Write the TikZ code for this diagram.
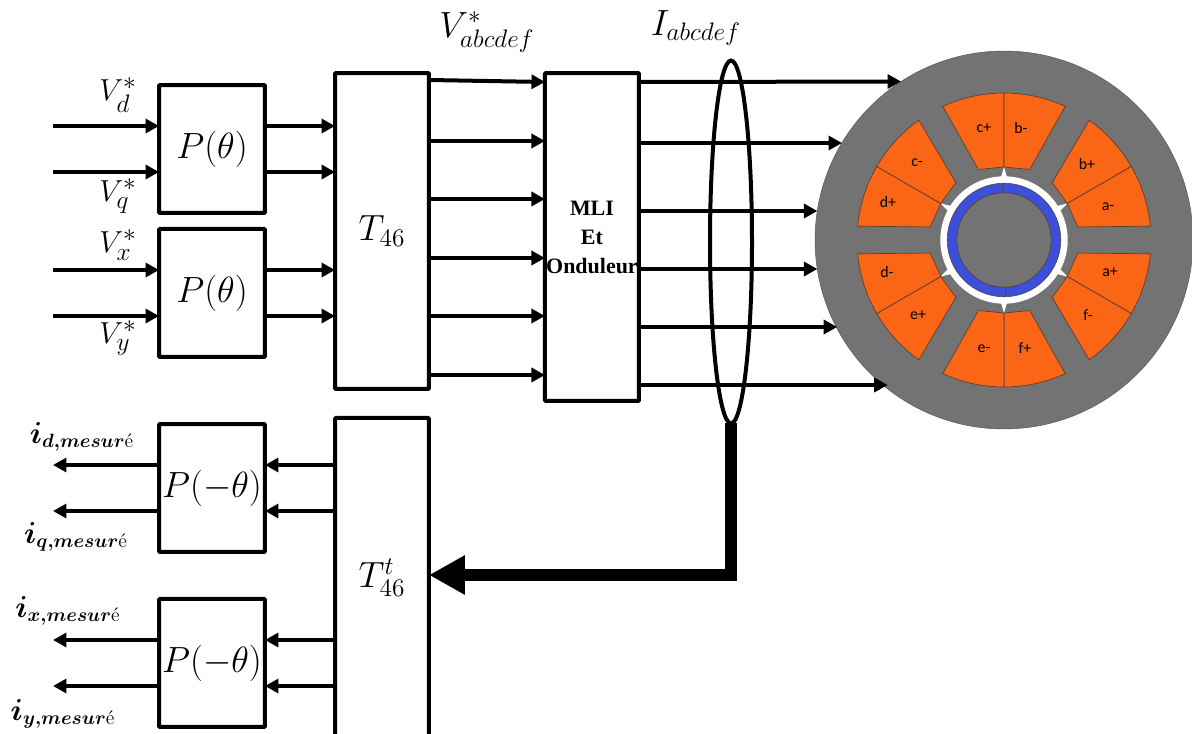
\documentclass[tikz,border=0pt]{standalone}
\usepackage{amsmath,amssymb}
\usepackage{fontspec}
\usepackage{tikz}
\usetikzlibrary{arrows.meta,positioning,shapes,calc,shapes.geometric}
\usepackage{xcolor}
\newfontfamily\slotfont{Carlito}
\newfontfamily\blockfont{Liberation Serif}
\definecolor{statorgray}{HTML}{737373}
\definecolor{slotorange}{HTML}{FA6616}
\definecolor{rotorblue}{HTML}{3B4FDB}
\definecolor{slotline}{HTML}{5A4030}

\begin{document}
\begin{tikzpicture}[
  x=0.02cm, y=-0.02cm,
  blockbox/.style={rectangle, draw, line width=0.08cm, inner sep=0pt, outer sep=0pt,
                   rounded corners=0.5pt, minimum width=2.12cm, minimum height=2.56cm,
                   font=\fontsize{20}{24}\selectfont},
  tallbox/.style={blockbox, minimum width=1.88cm},
  signal/.style={-{Triangle[length=0.27cm,width=0.28cm]}, line width=0.08cm},
  feedback/.style={-{Triangle[length=0.72cm,width=0.74cm]}, line width=0.24cm},
  symb/.style={font=\fontsize{19}{23}\selectfont, inner sep=0pt},
  meas/.style={font=\fontsize{16}{19}\selectfont, inner sep=0pt},
  slot/.style={fill=slotorange, draw=slotline, line width=0.4pt},
  slotlabel/.style={font=\slotfont\fontsize{9}{11}\selectfont, inner sep=0pt}
]
  \useasboundingbox (0,0) rectangle (1192,733);

  % Nodes
  \node[blockbox] (ptop) at (212,149) {$P(\theta)$};
  \node[blockbox, below=0.32cm of ptop] (pbot) {$P(\theta)$};
  \node[tallbox, minimum height=6.32cm] (t46) at (382,231) {$T_{46}$};
  \node[tallbox, minimum height=6.56cm, right=2.32cm of t46, yshift=-0.12cm, align=center,
        font=\blockfont\bfseries\fontsize{12.5}{16.5}\selectfont] (mli) {MLI\\Et\\Onduleur};
  \node[tallbox, minimum height=6.4cm, below=0.58cm of t46] (t46t) {$T_{46}^{t}$};
  \node[blockbox] (pinvtop) at (212,488) {$P(-\theta)$};
  \node[blockbox, below=0.94cm of pinvtop] (pinvbot) {$P(-\theta)$};
  \node[circle, fill=statorgray, draw=statorgray!80!black, line width=0.3pt, inner sep=0pt,
        outer sep=0pt, minimum size=7.56cm] (motor) at (1004,240) {};

  % Stator slots and rotor
  \begin{scope}[shift={(1004,240)}, yscale=-1]
    \foreach \c in {30,90,...,330} {
      \filldraw[slot] (\c:147) arc[start angle=\c, end angle=\c+24.6, radius=147]
        -- (\c+20:75) -- (\c:73) -- cycle;
      \filldraw[slot] (\c:147) arc[start angle=\c, end angle=\c-24.6, radius=147]
        -- (\c-20:75) -- (\c:73) -- cycle;
      \fill[white] (\c-3:62) -- (\c:73) -- (\c+3:62) -- cycle;
    }
    \fill[white] (0,0) circle[radius=63.7];
    \filldraw[fill=rotorblue, draw=slotline, line width=0.3pt] (0,0) circle[radius=56.8];
    \filldraw[fill=statorgray, draw=slotline, line width=0.4pt] (0,0) circle[radius=47.2];
    \draw[slotline, line width=0.4pt] (91.5:47.2) -- (91.5:56.8);
    \draw[slotline, line width=0.4pt] (272:47.2) -- (272:56.8);
  \end{scope}
  \foreach \lab/\px/\py [count=\i] in {c+/984/128, b-/1021/128, b+/1087/164, a-/1108/207,
      a+/1110/272, f-/1088/315, f+/1025/348, e-/984/349, e+/918/315, d-/887/272,
      d+/888/202, c-/917/163}
    \node[slotlabel] (slot\i) at (\px,\py) {\lab};

  % Current sensing loop
  \node[ellipse, draw, line width=0.08cm, inner sep=0pt, outer sep=0pt,
        minimum width=0.84cm, minimum height=7.26cm] (loop) at (731,242) {};

  % Labels
  \node[symb] (vd) at (118,95) {$V_d^*$};
  \node[symb] (vq) at (118,196) {$V_q^*$};
  \node[symb] (vx) at (118,245) {$V_x^*$};
  \node[symb] (vy) at (118,338) {$V_y^*$};
  \node[symb, font=\fontsize{20}{24}\selectfont] (vabc) at (487,32) {$V_{abcdef}^*$};
  \node[symb, font=\fontsize{20}{24}\selectfont] (iabc) at (696,28) {$I_{abcdef}$};
  \node[meas] (idm) at (82,437) {$\boldsymbol{i}_{\boldsymbol{d,mesur}\text{é}}$};
  \node[meas] (iqm) at (76,537) {$\boldsymbol{i}_{\boldsymbol{q,mesur}\text{é}}$};
  \node[meas] (ixm) at (68,611) {$\boldsymbol{i}_{\boldsymbol{x,mesur}\text{é}}$};
  \node[meas] (iym) at (63,714) {$\boldsymbol{i}_{\boldsymbol{y,mesur}\text{é}}$};

  % Free ends of the inputs and outputs
  \foreach \y in {126,172,270,316}
    \coordinate (in\y) at (53,\y);
  \foreach \y in {465,511,640,686}
    \coordinate (out\y) at (53,\y);

  % Reference side
  \foreach \y in {126,172} {
    \draw[signal] (in\y) -- (ptop.west |- in\y);
    \draw[signal] (ptop.east |- in\y) -- (t46.west |- in\y);
  }
  \foreach \y in {270,316} {
    \draw[signal] (in\y) -- (pbot.west |- in\y);
    \draw[signal] (pbot.east |- in\y) -- (t46.west |- in\y);
  }
  \draw[signal] (t46.east |- 0,80) -- (mli.west |- 0,82);
  \foreach \y in {141,199,258,316,375}
    \draw[signal] (t46.east |- 0,\y) -- (mli.west |- 0,\y);

  % Inverter to machine
  \draw[signal] (mli.east |- 0,82) -- (motor.123);
  \foreach \y/\a in {143/149,211/171,269/189,327/208,385/232}
    \draw[signal] (mli.east |- 0,\y) -- (motor.\a |- 0,\y);

  % Measured currents
  \draw[feedback] (loop.south) |- (t46t.east |- 0,575);
  \foreach \y in {465,511} {
    \draw[signal] (t46t.west |- out\y) -- (pinvtop.east |- out\y);
    \draw[signal] (pinvtop.west |- out\y) -- (out\y);
  }
  \foreach \y in {640,686} {
    \draw[signal] (t46t.west |- out\y) -- (pinvbot.east |- out\y);
    \draw[signal] (pinvbot.west |- out\y) -- (out\y);
  }
\end{tikzpicture}
\end{document}
